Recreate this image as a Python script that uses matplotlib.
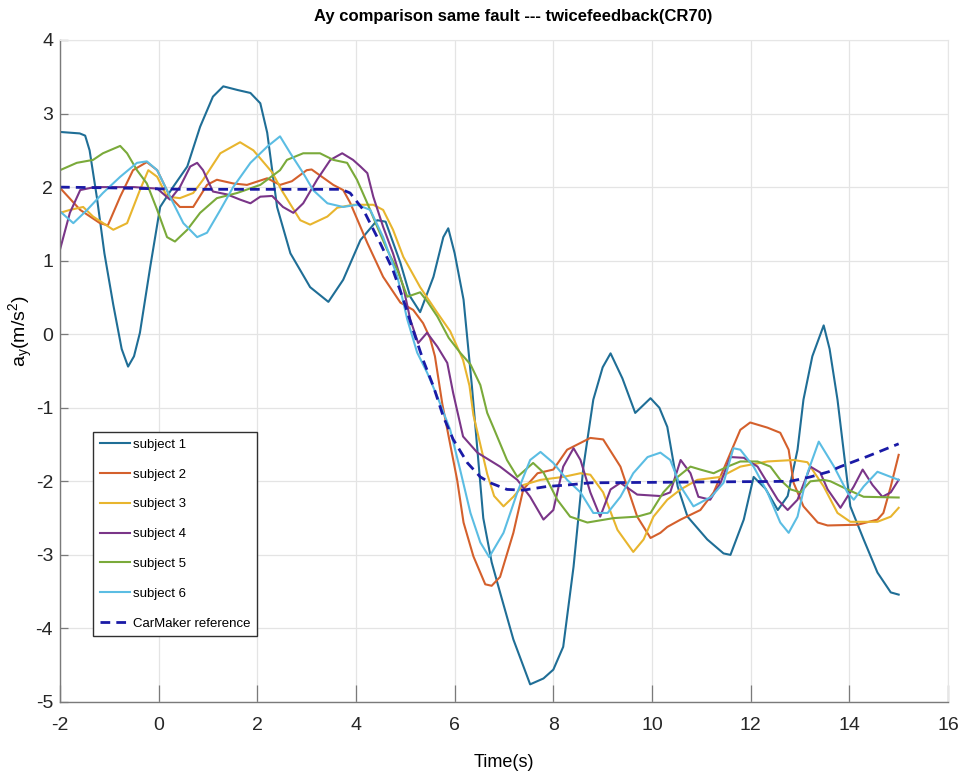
import matplotlib
matplotlib.use("Agg")
import matplotlib.pyplot as plt

# --- data: lateral acceleration per subject, time in s, ay in m/s^2 ---
t1 = [-2.0, -1.6, -1.49, -1.4, -1.25, -1.1, -0.92, -0.75, -0.62, -0.5, -0.38, -0.17, 0.03, 0.29,
      0.58, 0.84, 1.1, 1.31, 1.6, 1.86, 2.06, 2.2, 2.4, 2.67, 3.07, 3.44, 3.74, 4.09, 4.43, 4.6,
      4.9, 5.1, 5.3, 5.57, 5.77, 5.87, 6.0, 6.18, 6.35, 6.58, 6.75, 6.92, 7.19, 7.53, 7.8, 8.0,
      8.2, 8.41, 8.61, 8.81, 9.0, 9.16, 9.4, 9.66, 9.97, 10.15, 10.31, 10.52, 10.72, 11.12, 11.45,
      11.59, 11.86, 12.06, 12.3, 12.55, 12.75, 12.95, 13.07, 13.25, 13.48, 13.6, 13.76, 14.02,
      14.29, 14.57, 14.84, 15.0]
ay1 = [2.75, 2.73, 2.7, 2.5, 1.85, 1.1, 0.4, -0.2, -0.44, -0.3, 0.02, 0.92, 1.73, 2.0,
       2.28, 2.82, 3.23, 3.37, 3.32, 3.28, 3.14, 2.74, 1.73, 1.1, 0.64, 0.44, 0.74, 1.28, 1.55, 1.53,
       0.97, 0.51, 0.3, 0.78, 1.32, 1.44, 1.1, 0.47, -0.71, -2.5, -3.1, -3.51, -4.15, -4.76, -4.68, -4.56,
       -4.25, -3.16, -1.8, -0.89, -0.45, -0.26, -0.6, -1.07, -0.87, -1.0, -1.26, -2.07, -2.48, -2.79, -2.98,
       -3.0, -2.52, -1.94, -2.1, -2.39, -2.2, -1.57, -0.89, -0.3, 0.12, -0.2, -0.89, -2.34,
       -2.79, -3.24, -3.51, -3.54]

t2 = [-2.0, -1.59, -1.19, -1.03, -0.78, -0.52, -0.24, -0.03, 0.23, 0.43, 0.7, 0.98, 1.18, 1.51,
      1.79, 2.2, 2.46, 2.7, 3.0, 3.1, 3.54, 3.74, 3.88, 4.23, 4.55, 4.9, 5.16, 5.36, 5.5, 5.6,
      5.75, 6.05, 6.18, 6.38, 6.62, 6.75, 6.92, 7.19, 7.39, 7.68, 8.0, 8.28, 8.75, 9.01, 9.36,
      9.7, 9.97, 10.17, 10.31, 10.58, 10.98, 11.25, 11.53, 11.79, 11.99, 12.34, 12.6, 12.77,
      12.87, 13.07, 13.36, 13.56, 14.17, 14.57, 14.69, 14.84, 15.0]
ay2 = [1.99, 1.69, 1.51, 1.48, 1.87, 2.23, 2.34, 2.23, 1.87, 1.73, 1.73, 2.03, 2.1, 2.05,
       2.03, 2.12, 2.03, 2.08, 2.23, 2.24, 2.03, 1.96, 1.79, 1.24, 0.78, 0.43, 0.33, 0.15, -0.05, -0.3,
       -0.95, -1.98, -2.56, -3.02, -3.4, -3.42, -3.3, -2.7, -2.11, -1.89, -1.84, -1.57, -1.41, -1.43, -1.8,
       -2.48, -2.77, -2.7, -2.62, -2.52, -2.39, -2.15, -1.71, -1.3, -1.2, -1.27, -1.34, -1.57,
       -2.02, -2.34, -2.56, -2.6, -2.59, -2.52, -2.43, -2.07, -1.64]

t3 = [-2.0, -1.8, -1.53, -1.33, -0.92, -0.64, -0.38, -0.21, -0.03, 0.17, 0.43, 0.7, 0.9, 1.25,
      1.65, 1.92, 2.2, 2.3, 2.5, 2.87, 3.07, 3.42, 3.62, 3.94, 4.35, 4.55, 4.75, 4.96, 5.3, 5.65,
      5.91, 6.17, 6.3, 6.38, 6.52, 6.66, 6.8, 6.99, 7.19, 7.39, 7.74, 8.2, 8.55, 8.75, 9.01, 9.3,
      9.62, 9.83, 10.03, 10.31, 10.58, 10.92, 11.39, 11.79, 12.34, 12.87, 13.15, 13.48, 13.76,
      14.02, 14.57, 14.84, 15.0]
ay3 = [1.65, 1.69, 1.73, 1.6, 1.42, 1.51, 1.96, 2.23, 2.14, 1.87, 1.85, 1.92, 2.1, 2.46,
       2.61, 2.5, 2.28, 2.2, 1.95, 1.55, 1.49, 1.6, 1.72, 1.76, 1.76, 1.69, 1.42, 1.05, 0.64, 0.29,
       0.04, -0.35, -0.7, -1.1, -1.5, -1.9, -2.2, -2.34, -2.21, -2.05, -1.98, -1.94, -1.89, -1.91, -2.15, -2.66,
       -2.96, -2.79, -2.48, -2.25, -2.11, -1.98, -1.94, -1.8, -1.73, -1.71, -1.74, -2.07, -2.43,
       -2.55, -2.55, -2.48, -2.36]

t4 = [-2.0, -1.8, -1.59, -1.3, -0.5, -0.03, 0.23, 0.43, 0.64, 0.78, 0.9, 1.1, 1.39, 1.65, 1.86,
      2.06, 2.3, 2.52, 2.73, 2.93, 3.21, 3.48, 3.72, 3.94, 4.09, 4.23, 4.35, 4.55, 4.75, 4.96, 5.1,
      5.26, 5.44, 5.65, 5.85, 5.97, 6.17, 6.46, 6.92, 7.27, 7.53, 7.8, 8.0, 8.2, 8.41, 8.55, 8.75,
      8.95, 9.16, 9.36, 9.7, 10.17, 10.37, 10.58, 10.78, 10.94, 11.18, 11.39, 11.59, 11.86, 12.14,
      12.34, 12.55, 12.75, 12.95, 13.21, 13.41, 13.56, 13.82, 14.09, 14.27, 14.47, 14.67, 14.84, 15.0]
ay4 = [1.15, 1.65, 1.96, 2.0, 2.0, 1.98, 1.83, 2.0, 2.28, 2.33, 2.23, 1.94, 1.9, 1.83, 1.78,
       1.87, 1.88, 1.73, 1.65, 1.78, 2.1, 2.37, 2.46, 2.37, 2.28, 2.19, 1.87, 1.46, 1.1, 0.64, 0.2,
       -0.12, 0.02, -0.17, -0.39, -0.8, -1.39, -1.61, -1.8, -1.98, -2.21, -2.52, -2.39, -1.8, -1.55, -1.71, -2.15,
       -2.48, -2.11, -2.02, -2.18, -2.2, -2.15, -1.71, -1.89, -2.21, -2.25, -2.02, -1.67, -1.68, -1.8,
       -2.02, -2.25, -2.39, -2.25, -1.8, -1.88, -2.11, -2.36, -2.07, -1.84, -2.05, -2.21, -2.15, -1.98]

t5 = [-2.0, -1.66, -1.33, -1.13, -0.78, -0.64, -0.44, -0.24, -0.03, 0.17, 0.33, 0.58, 0.84, 1.18,
      1.59, 2.06, 2.46, 2.6, 2.93, 3.27, 3.54, 3.82, 4.02, 4.23, 4.43, 4.63, 4.84, 5.04, 5.3, 5.44,
      5.65, 5.88, 6.11, 6.32, 6.52, 6.66, 6.78, 7.06, 7.27, 7.59, 7.8, 8.08, 8.34, 8.69, 9.22, 9.7,
      9.97, 10.23, 10.52, 10.78, 10.98, 11.25, 11.53, 11.79, 12.14, 12.4, 12.6, 12.81, 13.01,
      13.21, 13.48, 13.62, 13.96, 14.29, 15.0]
ay5 = [2.23, 2.33, 2.37, 2.46, 2.56, 2.46, 2.23, 2.05, 1.69, 1.32, 1.26, 1.42, 1.65, 1.85,
       1.92, 2.03, 2.23, 2.37, 2.46, 2.46, 2.37, 2.33, 2.1, 1.78, 1.46, 1.15, 0.87, 0.51, 0.57, 0.45,
       0.24, -0.05, -0.25, -0.41, -0.69, -1.07, -1.26, -1.71, -1.94, -1.75, -1.88, -2.25, -2.48, -2.56, -2.5, -2.48,
       -2.43, -2.15, -1.94, -1.8, -1.84, -1.89, -1.8, -1.73, -1.73, -1.8, -1.98, -2.11, -2.15,
       -2.0, -1.98, -2.0, -2.11, -2.21, -2.22]

t6 = [-2.0, -1.73, -1.45, -1.13, -0.78, -0.44, -0.24, -0.03, 0.23, 0.5, 0.78, 0.98, 1.25, 1.51,
      1.86, 2.2, 2.46, 2.67, 2.93, 3.13, 3.42, 3.74, 4.02, 4.29, 4.55, 4.84, 5.04, 5.24, 5.44, 5.65,
      5.91, 6.11, 6.32, 6.52, 6.7, 6.99, 7.27, 7.53, 7.74, 8.0, 8.28, 8.55, 8.81, 9.1, 9.36, 9.62,
      9.91, 10.17, 10.37, 10.58, 10.84, 10.98, 11.2, 11.45, 11.65, 11.79, 12.06, 12.34, 12.6,
      12.77, 12.95, 13.15, 13.38, 13.69, 13.96, 14.09, 14.29, 14.57, 14.84, 15.0]
ay6 = [1.67, 1.51, 1.69, 1.92, 2.14, 2.33, 2.35, 2.23, 1.87, 1.51, 1.32, 1.38, 1.69, 2.0,
       2.33, 2.55, 2.69, 2.46, 2.19, 1.96, 1.78, 1.73, 1.76, 1.69, 1.32, 0.78, 0.2, -0.25, -0.52, -0.85,
       -1.3, -1.84, -2.43, -2.83, -3.03, -2.7, -2.15, -1.71, -1.6, -1.75, -1.98, -2.15, -2.43, -2.43, -2.21, -1.89,
       -1.67, -1.61, -1.71, -2.07, -2.34, -2.29, -2.21, -2.02, -1.55, -1.57, -1.8, -2.15, -2.56,
       -2.7, -2.48, -1.89, -1.46, -1.8, -2.15, -2.25, -2.07, -1.87, -1.94, -1.98]

t_ref = [-2.0, -1.0, 0.5, 3.5, 3.7, 3.88, 4.15, 4.49, 4.75, 4.96, 5.16, 5.36, 5.57, 5.77, 5.97,
         6.26, 6.52, 6.72, 7.06, 7.39, 7.87, 8.28, 8.75, 12.8, 13.21, 13.58, 13.82, 14.37, 15.0]
ay_ref = [2.0, 1.99, 1.97, 1.97, 1.97, 1.92, 1.69, 1.24, 0.87, 0.47, 0.05, -0.35, -0.71, -1.12, -1.43,
          -1.75, -1.94, -2.02, -2.11, -2.12, -2.07, -2.05, -2.02, -2.0, -1.94, -1.87, -1.8, -1.66, -1.49]

labels = ["subject 1", "subject 2", "subject 3", "subject 4", "subject 5", "subject 6"]
colors = ["#1f6e96", "#d4602c", "#e8b52e", "#7a3588", "#7aaa3a", "#5bbde3"]

x_ticks = list(range(-2, 17, 2))
y_ticks = list(range(-5, 5))

plt.rcParams["font.family"] = ["Liberation Sans", "DejaVu Sans"]
plt.rcParams["mathtext.fontset"] = "custom"
plt.rcParams["mathtext.rm"] = "Liberation Sans"
plt.rcParams["mathtext.it"] = "Liberation Sans"
plt.rcParams["axes.unicode_minus"] = False

fig = plt.figure(figsize=(9.58, 7.78), dpi=100)
ax = fig.add_axes([60 / 958, 1 - 702 / 778, 888 / 958, 662 / 778])

series = [(t1, ay1), (t2, ay2), (t3, ay3), (t4, ay4), (t5, ay5), (t6, ay6)]
for (t, a), lab, c in zip(series, labels, colors):
    ax.plot(t, a, color=c, lw=1.5, label=lab)
ax.plot(t_ref, ay_ref, color="#1a1aa6", lw=2.0, ls=(0, (3.5, 2.2)), label="CarMaker reference")

ax.set_xlim(-2, 16)
ax.set_ylim(-5, 4)
ax.set_xticks(x_ticks)
ax.set_yticks(y_ticks)
ax.grid(True, color="#e4e4e4", lw=0.9)
ax.set_axisbelow(True)

for side in ("top", "right"):
    ax.spines[side].set_color("#e6e6e6")
for side in ("left", "bottom"):
    ax.spines[side].set_color("#7a7a7a")
    ax.spines[side].set_linewidth(1.0)

ax.tick_params(axis="x", direction="in", length=12, width=0.9, color="#7a7a7a",
               pad=11, labelsize=14, labelcolor="#262626", top=False)
ax.tick_params(axis="y", direction="in", length=6, width=0.9, color="#7a7a7a",
               pad=5, labelsize=14, labelcolor="#262626", right=False)

ax.set_title("Ay comparison same fault --- twicefeedback(CR70)", fontsize=12,
             fontweight="bold", pad=14, x=0.51)
ax.set_xlabel("Time(s)", fontsize=13, labelpad=14)
ax.set_ylabel(r"a$_\mathregular{y}$(m/s$^\mathregular{2}$)", fontsize=14)
ax.yaxis.set_label_coords(-0.028, 0.56)

leg = ax.legend(loc="upper left", bbox_to_anchor=(93 / 958, 1 - 432 / 778),
                bbox_transform=fig.transFigure, borderaxespad=0, fancybox=False,
                fontsize=9.5, handlelength=2.3, handletextpad=0.25,
                labelspacing=1.33, borderpad=0.5, framealpha=1)
leg.get_frame().set_edgecolor("#303030")
leg.get_frame().set_linewidth(1.0)

fig.savefig("out.png", dpi=100)
